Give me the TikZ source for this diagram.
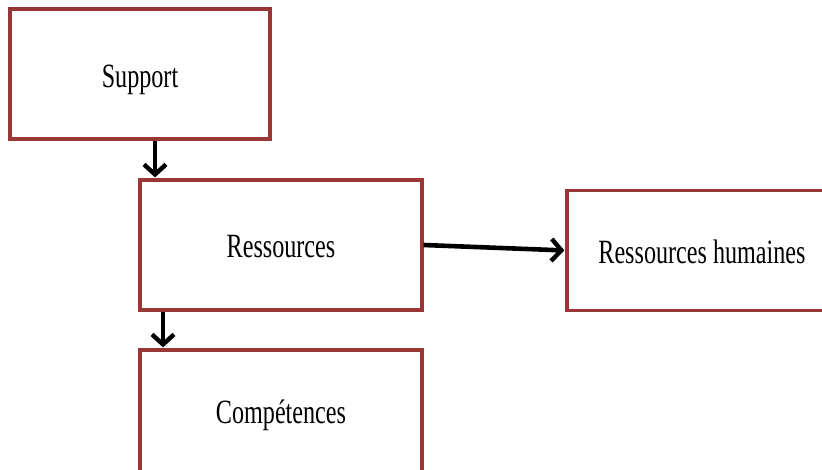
\documentclass[tikz,border=0pt]{standalone}
\usepackage{fontspec}
\setmainfont{Liberation Serif}
\usetikzlibrary{arrows.meta}
\definecolor{boxred}{HTML}{9A3636}
% label text, condensed horizontally, lowered by #1 while keeping its box size
\newcommand{\boxlabel}[2]{\raisebox{-#1}[\height][\depth]{\scalebox{0.71}[1]{\fontsize{34}{40}\selectfont #2}}}
\tikzset{
  blockbox/.style={draw=boxred, line width=3.2pt, fill=white, inner sep=0pt},
  flowarrow/.style={draw=black, line width=4.6pt,
    -{Straight Barb[length=10pt, width=22pt, line width=4.4pt]}, shorten >=1pt}
}
\begin{document}
\begin{tikzpicture}[x=1pt, y=-1pt]
  \useasboundingbox (0,0) rectangle (822,470);
  \clip (0,0) rectangle (822,470);
  \fill[white] (0,0) rectangle (822,470);

  \node[blockbox, minimum width=260pt, minimum height=130pt] (support) at (140,74)
    {\boxlabel{6pt}{Support}};
  \node[blockbox, minimum width=282pt, minimum height=130pt] (ress) at (281,245)
    {\boxlabel{2pt}{Ressources}};
  \node[blockbox, minimum width=270pt, minimum height=120pt] (rh) at (702,250.5)
    {\boxlabel{1pt}{Ressources humaines}};
  \node[blockbox, minimum width=282pt, minimum height=128pt] (comp) at (281,414)
    {\boxlabel{1pt}{Compétences}};

  \coordinate (c1) at (155,0);
  \coordinate (c2) at (163,0);

  \draw[flowarrow] (support.south -| c1) -- (ress.north -| c1);
  \draw[flowarrow] (ress.south -| c2) -- (comp.north -| c2);
  \draw[flowarrow] (ress.east) -- (rh.west);
\end{tikzpicture}
\end{document}
